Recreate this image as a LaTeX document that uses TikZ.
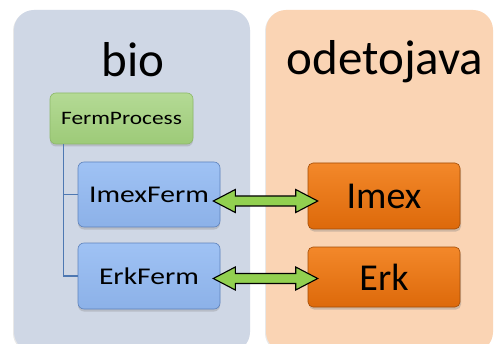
\documentclass[tikz,border=0pt]{standalone}
\usepackage{fontspec}
\usepackage{graphicx}
\setmainfont{Carlito}
\usetikzlibrary{shadows,calc}

\definecolor{biobg}{HTML}{CFD7E5}
\definecolor{odebg}{HTML}{FAD4B4}
\definecolor{greentop}{HTML}{B4DA95}
\definecolor{greenbot}{HTML}{9DCA78}
\definecolor{greenedge}{HTML}{8DB86A}
\definecolor{bluetop}{HTML}{9FC2F4}
\definecolor{bluebot}{HTML}{8CB1E8}
\definecolor{blueedge}{HTML}{5E83BD}
\definecolor{orangetop}{HTML}{F3882A}
\definecolor{orangemid}{HTML}{F07410}
\definecolor{orangebot}{HTML}{DD690A}
\definecolor{orangeedge}{HTML}{A24C06}
\definecolor{treeblue}{HTML}{4E78B2}
\definecolor{arrowgreen}{HTML}{92D050}

% horizontally widened class labels
\newcommand\widelabel[1]{\scalebox{1.23}[1]{#1}}

\tikzset{
  panel/.style={rounded corners=20pt, drop shadow={opacity=0.18, shadow xshift=-1pt, shadow yshift=-1pt}},
  title/.style={font=\fontsize{49}{49}\selectfont, inner sep=0pt},
  classbox/.style={rounded corners=6pt, draw=blueedge, line width=0.6pt,
    top color=bluetop, bottom color=bluebot, font=\fontsize{24}{24}\selectfont,
    minimum width=142pt, inner sep=0pt,
    drop shadow={opacity=0.3, shadow xshift=0pt, shadow yshift=-2.5pt}},
  rootbox/.style={classbox, draw=greenedge, top color=greentop, bottom color=greenbot,
    font=\fontsize{19}{19}\selectfont, minimum width=143pt, minimum height=51pt},
  solverbox/.style={rounded corners=5pt, draw=orangeedge, line width=0.6pt,
    top color=orangetop, middle color=orangemid, bottom color=orangebot,
    font=\fontsize{38}{38}\selectfont, minimum width=152pt, inner sep=0pt,
    drop shadow={opacity=0.35, shadow xshift=1pt, shadow yshift=-2.5pt}},
  treeline/.style={draw=treeblue, line width=1.2pt},
  linkarrow/.style={draw=black, line width=1.1pt, fill=arrowgreen, line join=miter,
    to path={let \p1=(\tikztostart), \p2=(\tikztotarget) in
      (\x1,\y1) -- ({\x1+22pt},{\y1+11.5pt}) -- ({\x1+22pt},{\y1+5pt})
      -- ({\x2-22pt},{\y2+5pt}) -- ({\x2-22pt},{\y2+11.5pt}) -- (\x2,\y2)
      -- ({\x2-22pt},{\y2-11.5pt}) -- ({\x2-22pt},{\y2-5pt})
      -- ({\x1+22pt},{\y1-5pt}) -- ({\x1+22pt},{\y1-11.5pt}) -- cycle}}
}

\begin{document}
\begin{tikzpicture}[x=1pt,y=-1pt]
\useasboundingbox (0,0) rectangle (494,344);
\fill[white] (0,0) rectangle (494,344);

% package panels
\begin{scope}
  \clip (0,0) rectangle (494,344);
  \fill[biobg, panel] (14,10) rectangle (250,352);
  \fill[odebg, panel] (266,10) rectangle (493,352);
\end{scope}

\node[title] (bio) at (133,60) {bio};
\node[title] (ode) at (385,62) {odetojava};

% bio classes
\node[rootbox] (ferm) at (121.5,118.5) {\widelabel{FermProcess}};
\node[classbox, minimum height=65pt] (imexferm) at (149,194.5) {\widelabel{ImexFerm}};
\node[classbox, minimum height=66pt] (erkferm) at (149,276) {\widelabel{ErkFerm}};

% odetojava solvers
\node[solverbox, minimum height=66pt] (imex) at (384,196) {Imex};
\node[solverbox, minimum height=60pt] (erk) at (384,277) {Erk};

% hierarchy lines
\coordinate (trunk) at ($(ferm.south west)+(14,0)$);
\draw[treeline] (trunk) |- (imexferm.west);
\draw[treeline] (trunk) |- (erkferm.west);

% two-way links
\coordinate (l1) at ($(imexferm.east)+(-7,6.5)$);
\coordinate (r1) at ($(l1 -| imex.west)+(10,0)$);
\coordinate (l2) at ($(erkferm.east)+(-7,2.5)$);
\coordinate (r2) at ($(l2 -| erk.west)+(10,0)$);
\path[linkarrow] (l1) to (r1);
\path[linkarrow] (l2) to (r2);
\end{tikzpicture}
\end{document}
